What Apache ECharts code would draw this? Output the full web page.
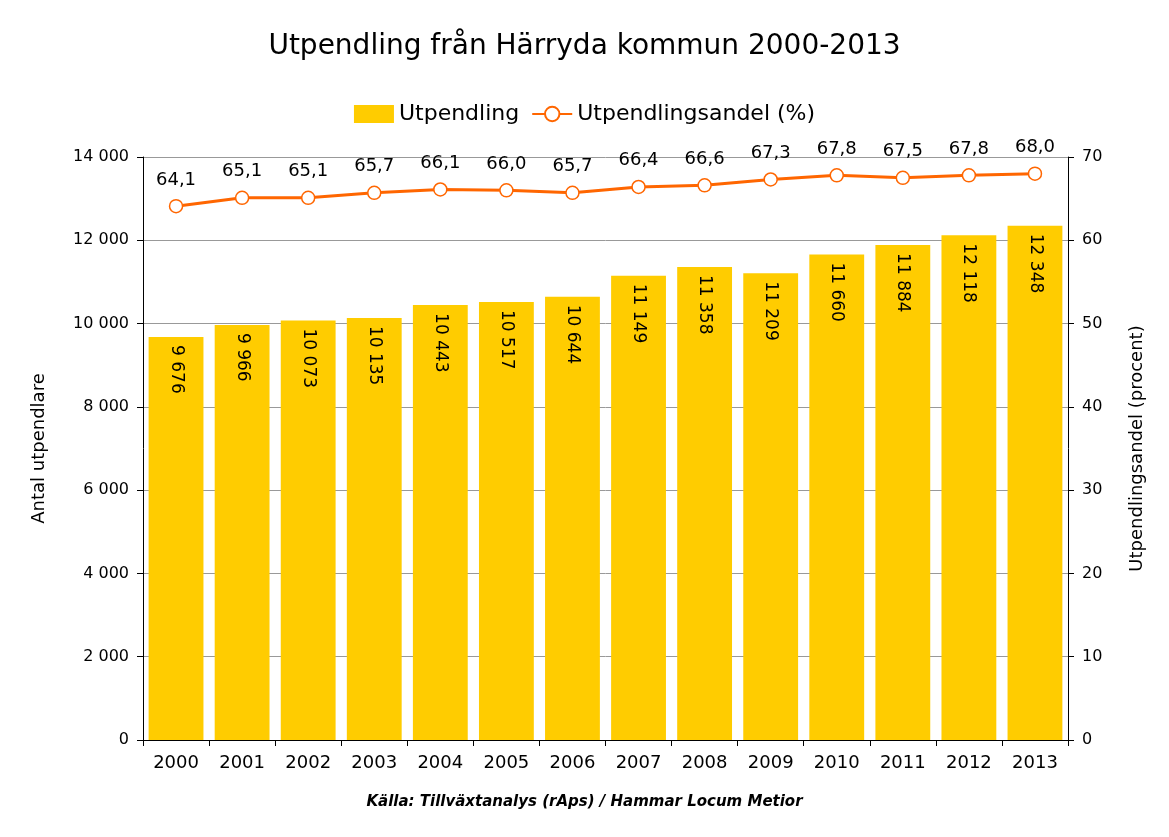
<!DOCTYPE html>
<html><head><meta charset="utf-8">
<script src="https://cdn.jsdelivr.net/npm/echarts@6/dist/echarts.min.js"></script>
<style>html,body{margin:0;padding:0;background:#fff}#c{width:1169px;height:837px}</style>
</head><body><div id="c"></div>
<script>
const years = ['2000','2001','2002','2003','2004','2005','2006','2007','2008','2009','2010','2011','2012','2013'];
const utpendling = [9676,9966,10073,10135,10443,10517,10644,11149,11358,11209,11660,11884,12118,12348];
const andel = [64.1,65.1,65.1,65.7,66.1,66.0,65.7,66.4,66.6,67.3,67.8,67.5,67.8,68.0];
const fmt = v => String(v).replace(/\B(?=(\d{3})+(?!\d))/g, ' ');
const F = 'DejaVu Sans';
const chart = echarts.init(document.getElementById('c'));
chart.setOption({
  animation:false,
  textStyle:{fontFamily:F,color:'#000'},
  title:{text:'Utpendling från Härryda kommun 2000-2013',left:'center',top:28,textStyle:{fontFamily:F,fontSize:28,fontWeight:'normal',color:'#000'}},
  legend:{top:98,left:'center',itemGap:12,textStyle:{fontFamily:F,fontSize:22,color:'#000'},
    data:[{name:'Utpendling',icon:'rect',itemWidth:56,itemHeight:18},{name:'Utpendlingsandel (%)',itemWidth:40}],itemWidth:40,itemHeight:18},
  grid:{left:143,right:101,top:157,bottom:97},
  graphic:[{type:'text',left:'center',top:795,style:{text:'Källa: Tillväxtanalys (rAps) / Hammar Locum Metior',fontFamily:F,fontSize:15,fontStyle:'italic',fontWeight:'bold',fill:'#000'}}],
  xAxis:{type:'category',data:years,axisLine:{lineStyle:{color:'#000'}},axisTick:{show:true,length:6,lineStyle:{color:'#000'}},
    axisLabel:{fontSize:18,color:'#000',margin:14}},
  yAxis:[
    {type:'value',min:0,max:14000,interval:2000,name:'Antal utpendlare',nameLocation:'middle',nameGap:95,nameTextStyle:{fontSize:18,color:'#000'},
     axisLine:{show:true,lineStyle:{color:'#000'}},axisTick:{show:true,length:6,lineStyle:{color:'#000'}},
     axisLabel:{fontSize:16,color:'#000',formatter:fmt,margin:14},splitLine:{lineStyle:{color:'#999'}}},
    {type:'value',min:0,max:70,interval:10,name:'Utpendlingsandel (procent)',nameLocation:'middle',nameGap:60,nameRotate:90,nameTextStyle:{fontSize:18,color:'#000'},
     axisLine:{show:true,lineStyle:{color:'#000'}},axisTick:{show:true,length:6,lineStyle:{color:'#000'}},
     axisLabel:{fontSize:16,color:'#000',margin:14},splitLine:{show:false}}
  ],
  series:[
    {name:'Utpendling',type:'bar',data:utpendling,barCategoryGap:'17%',itemStyle:{color:'#FFCC00'},
     label:{show:true,position:'insideTop',rotate:-90,align:'left',verticalAlign:'middle',fontSize:17,color:'#000',formatter:p=>fmt(p.value),distance:8}},
    {name:'Utpendlingsandel (%)',type:'line',yAxisIndex:1,data:andel,symbol:'circle',symbolSize:13,
     lineStyle:{color:'#FF6600',width:3},itemStyle:{color:'#fff',borderColor:'#FF6600',borderWidth:1.5},
     label:{show:true,position:'top',distance:10,fontSize:18,color:'#000',formatter:p=>p.value.toFixed(1).replace('.',',')}}
  ]
});
</script></body></html>
